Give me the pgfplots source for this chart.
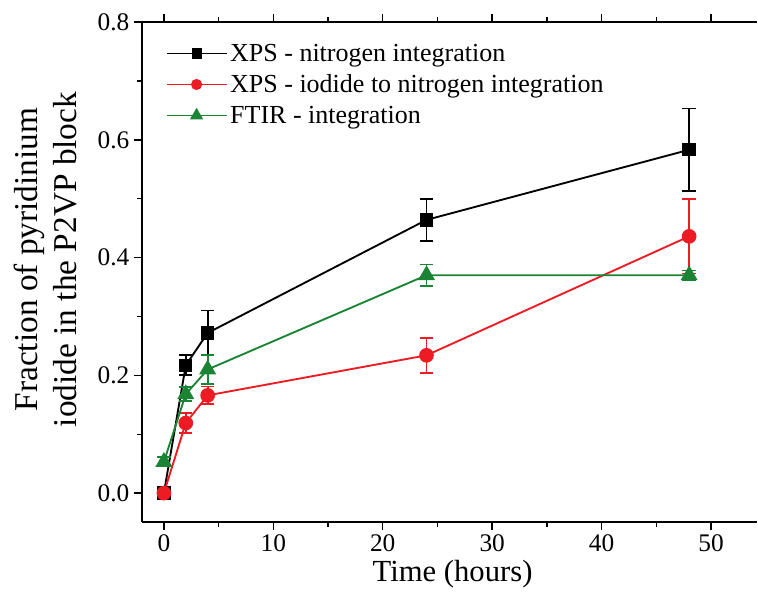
\documentclass[border=0pt]{standalone}
\usepackage{pgfplots}
\pgfplotsset{compat=1.18}
\usepackage{fontspec}
\setmainfont{Liberation Serif}
\definecolor{myred}{RGB}{237,28,36}
\definecolor{mygreen}{RGB}{27,132,52}
\begin{document}
\begin{tikzpicture}
\path[use as bounding box] (-106.5pt,-57pt) rectangle (462pt,391.5pt);
\begin{axis}[
  at={(0pt,0pt)}, anchor=south west,
  scale only axis, width=461.25pt, height=375pt,
  xmin=-2, xmax=54.2, ymin=-0.049, ymax=0.8,
  axis x line*=box, axis y line*=left,
  axis line style={line width=1.2pt},
  xtick={0,10,20,30,40,50},
  ytick={0,0.2,0.4,0.6,0.8},
  minor x tick num=1, minor y tick num=1,
  tick align=outside,
  major tick length=6pt, minor tick length=3.5pt,
  every tick/.style={black, line width=1.1pt},
  /pgf/number format/assume math mode=true,
  yticklabel style={/pgf/number format/fixed, /pgf/number format/fixed zerofill, /pgf/number format/precision=1},
  tick label style={font=\fontsize{19}{20}\selectfont},
  xlabel={Time (hours)},
  ylabel={Fraction of pyridinium\\iodide in the P2VP block},
  xlabel style={font=\fontsize{23}{28}\selectfont, at={(axis description cs:0.505,-0.104)}, anchor=center},
  ylabel style={font=\fontsize{25}{29.5}\selectfont, align=center, at={(axis description cs:-0.157,0.525)}, anchor=center},
  legend style={at={(axis description cs:0.038,0.962)}, anchor=north west, draw=none, fill=none,
    font=\fontsize{19.5}{22}\selectfont, row sep=4.5pt, inner sep=0pt},
  legend cell align=left,
  legend image code/.code={\draw[mark repeat=2,mark phase=2,#1,every mark/.append style={scale=0.72}] plot coordinates {(0pt,0pt) (22.5pt,0pt) (45pt,0pt)};},
  error bars/y dir=both, error bars/y explicit,
  error bars/error bar style={line width=1.3pt},
  error bars/error mark options={rotate=90, mark size=5pt, line width=1.3pt},
]
\addplot[black, line width=1.4pt, mark=square*, mark size=4.3pt, mark options={solid, fill=black}]
  coordinates {(0,0) +- (0,0) (2,0.217) +- (0,0.017) (4,0.272) +- (0,0.038) (24,0.464) +- (0,0.036) (48,0.583) +- (0,0.07)};
\addlegendentry{XPS - nitrogen integration}
\addplot[myred, line width=1.4pt, mark=*, mark size=4.8pt, mark options={solid, fill=myred}]
  coordinates {(0,0) +- (0,0) (2,0.119) +- (0,0.017) (4,0.166) +- (0,0.015) (24,0.234) +- (0,0.03) (48,0.436) +- (0,0.063)};
\addlegendentry{XPS - iodide to nitrogen integration}
\addplot[mygreen, line width=1.4pt, mark=triangle*, mark size=6pt, mark options={solid, fill=mygreen}]
  coordinates {(0,0.053) +- (0,0.008) (2,0.168) +- (0,0.012) (4,0.21) +- (0,0.025) (24,0.37) +- (0,0.018) (48,0.37) +- (0,0.008)};
\addlegendentry{FTIR - integration}
\end{axis}
\end{tikzpicture}
\end{document}
